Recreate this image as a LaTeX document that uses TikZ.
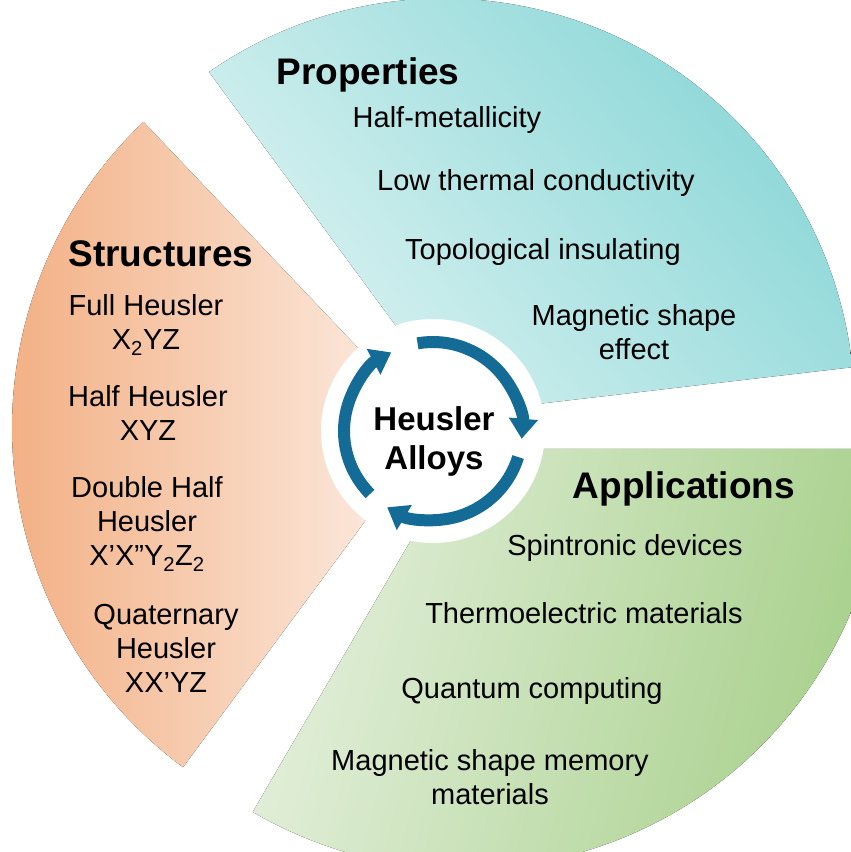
\documentclass[tikz,border=0pt]{standalone}
\usepackage{fontspec}
\setmainfont{Liberation Sans}
\usepackage{tikz}
\usetikzlibrary{arrows.meta}
\definecolor{tealD}{HTML}{86D5D6}
\definecolor{tealL}{HTML}{DAF2F1}
\definecolor{orngD}{HTML}{F2AD80}
\definecolor{orngL}{HTML}{FDF0E8}
\definecolor{grnD}{HTML}{A6CF89}
\definecolor{grnL}{HTML}{E3EFDB}
\definecolor{ringc}{HTML}{146B95}
\tikzset{
  head/.style={font=\bfseries\fontsize{37}{40}\selectfont,anchor=base},
  item/.style={font=\fontsize{29}{34}\selectfont,align=center,anchor=base},
  hub/.style={font=\bfseries\fontsize{33}{39}\selectfont,align=center,anchor=base},
  cyc/.style={-{Triangle[width=28pt,length=20pt]},line width=12pt,ringc}
}
\begin{document}
\begin{tikzpicture}[x=1pt,y=1pt]
\useasboundingbox (0,0) rectangle (851,852);
\clip (0,0) rectangle (851,852);
% sectors
\fill[top color=tealD,bottom color=tealL,shading angle=-50]
  (460,439) -- (209,780) arc[start angle=124.8,end angle=5.9,radius=411] -- cycle;
\fill[left color=orngD,right color=orngL]
  (434,424) -- ++(133.5:422) arc[start angle=133.5,end angle=233.5,radius=422] -- cycle;
\fill[top color=grnD,bottom color=grnL,shading angle=-105]
  (464,403) -- ++(239.8:420) arc[start angle=239.8,end angle=360,radius=420] -- cycle;
% hub
\coordinate (ctr) at (433,421);
\fill[white] (ctr) circle (112);
\draw[cyc] (ctr) ++(100:89) arc[start angle=100,end angle=-5,radius=89];
\draw[cyc] (ctr) ++(-17:89) arc[start angle=-17,end angle=-121,radius=89];
\draw[cyc] (ctr) ++(-135:89) arc[start angle=-135,end angle=-242,radius=89];
% base of a multi-line node = its last line
\node[hub] (hub) at (434,382) {Heusler\\Alloys};
% properties
\node[head] (prop) at (368,767) {Properties};
\node[item] (hmet) at (447,724) {Half-metallicity};
\node[item] (ltc) at (536,661) {Low thermal conductivity};
\node[item] (topo) at (543,592) {Topological insulating};
\node[item] (mse) at (634,492) {Magnetic shape\\effect};
% structures
\node[head] (struc) at (161,585) {Structures};
\node[item] (fh) at (146,502) {Full Heusler\\X\textsubscript{2}YZ};
\node[item] (hh) at (148,411) {Half Heusler\\XYZ};
\node[item] (dhh) at (147,286) {Double Half\\Heusler\\X’X”Y\textsubscript{2}Z\textsubscript{2}};
\node[item] (qh) at (166,159) {Quaternary\\Heusler\\XX’YZ};
% applications
\node[head] (appl) at (684,353) {Applications};
\node[item] (spin) at (625,296) {Spintronic devices};
\node[item] (te) at (584,228) {Thermoelectric materials};
\node[item] (qc) at (532,153) {Quantum computing};
\node[item] (msm) at (490,47) {Magnetic shape memory\\materials};
\end{tikzpicture}
\end{document}
